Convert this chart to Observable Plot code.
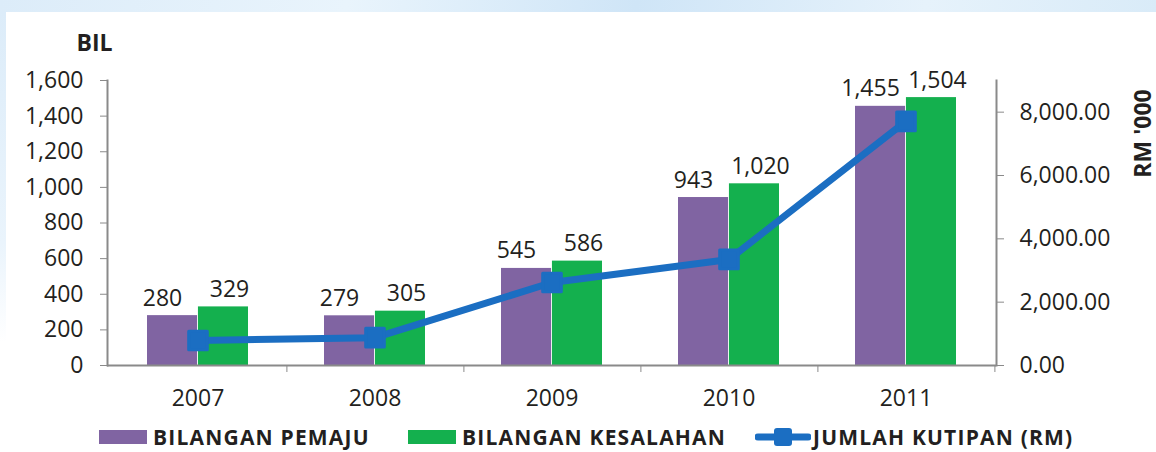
<!DOCTYPE html>
<html>
<head>
<meta charset="utf-8">
<script src="https://cdn.jsdelivr.net/npm/d3@7"></script>
<script src="https://cdn.jsdelivr.net/npm/@observablehq/plot@0.6"></script>
<style>
  html, body { margin: 0; padding: 0; background: #fff; }
  body { width: 1156px; height: 452px; overflow: hidden; position: relative; font-family: "Open Sans", sans-serif; }
  #topband { position: absolute; left: 0; top: 0; width: 1156px; height: 12px;
    background: linear-gradient(100deg, #dcecf9 0%, #e9f4fc 30%, #cfe5f7 55%, #e6f2fb 80%, #d9ebf8 100%); }
  #leftband { position: absolute; left: 0; top: 12px; width: 6px; height: 330px;
    background: linear-gradient(180deg, #dcecf9 0%, #eaf4fc 70%, #ffffff 100%); }
  #chart { position: absolute; left: 0; top: 0; width: 1156px; }
  #legend { position: absolute; left: 0; top: 423px; width: 1156px; height: 28px; }
  .item { position: absolute; top: 0; height: 28px; display: flex; align-items: center; line-height: 1;
          font-family: "Open Sans", sans-serif; font-weight: 700; font-size: 21px; letter-spacing: 1.2px; color: #231f20; white-space: nowrap; }
  .sw { width: 48px; height: 14px; margin-right: 6px; }
</style>
</head>
<body>
<div id="topband"></div>
<div id="leftband"></div>
<div id="chart"></div>
<div id="legend"></div>
<script>
const years = ["2007", "2008", "2009", "2010", "2011"];
const pemaju = [280, 279, 545, 943, 1455];
const kesalahan = [329, 305, 586, 1020, 1504];
const kutipan = [790, 880, 2620, 3350, 7710]; // RM '000
const leftTicks = [0, 200, 400, 600, 800, 1000, 1200, 1400, 1600];
const rightTicks = [0, 2000, 4000, 6000, 8000];
const seriesNames = ["BILANGAN PEMAJU", "BILANGAN KESALAHAN", "JUMLAH KUTIPAN (RM)"];
const colors = ["#8064a2", "#14b04e", "#1b6ec2"];

const W = 1156, H = 415;
const mL = 107, mR = 160, mT = 80, mB = 50;
const leftMax = 1600, rightMax = 9000;
const k = leftMax / rightMax;

const pIn = 0.427, pOut = pIn / 2;
const step = (W - mL - mR) / (years.length - pIn + 2 * pOut);
const bw = step * (1 - pIn);

const barsP = years.map((y, i) => ({year: y, value: pemaju[i]}));
const barsK = years.map((y, i) => ({year: y, value: kesalahan[i]}));
const lineData = years.map((y, i) => ({year: y, value: kutipan[i]}));

const fmtL = d3.format(",");
const fmtR = d3.format(",.2f");
const axisColor = "#8a8a8a";
const textColor = "#231f20";

const chart = Plot.plot({
  width: W, height: H,
  marginLeft: mL, marginRight: mR, marginTop: mT, marginBottom: mB,
  style: {fontFamily: "Open Sans, sans-serif", fontSize: "23px", color: textColor, background: "transparent", overflow: "visible"},
  x: {type: "band", domain: years, paddingInner: pIn, paddingOuter: pOut, axis: null},
  y: {domain: [0, leftMax], axis: null},
  marks: [
    Plot.barY(barsP, {x: "year", y: "value", fill: colors[0], insetRight: bw / 2}),
    Plot.barY(barsK, {x: "year", y: "value", fill: colors[1], insetLeft: bw / 2}),
    Plot.text(barsP, {x: "year", y: "value", text: d => fmtL(d.value), dx: -bw / 4 - 10, dy: -10, lineAnchor: "bottom", fill: textColor, fontSize: 23}),
    Plot.text(barsK, {x: "year", y: "value", text: d => fmtL(d.value), dx: bw / 4 + 6, dy: -10, lineAnchor: "bottom", fill: textColor, fontSize: 23}),
    Plot.line(lineData, {x: "year", y: d => d.value * k, stroke: colors[2], strokeWidth: 7}),
    Plot.dot(lineData, {x: "year", y: d => d.value * k, symbol: "square", r: 10.5, fill: colors[2], stroke: colors[2], strokeWidth: 3, strokeLinejoin: "round"}),
    Plot.frame({anchor: "left", stroke: axisColor, strokeWidth: 2}),
    Plot.frame({anchor: "right", stroke: axisColor, strokeWidth: 2}),
    Plot.ruleY([0], {stroke: axisColor, strokeWidth: 2}),
    Plot.axisY(leftTicks, {anchor: "left", tickSize: 7, tickPadding: 17, tickFormat: fmtL, stroke: axisColor, fill: textColor, fontSize: 23, label: null}),
    Plot.axisY(rightTicks.map(v => v * k), {anchor: "right", tickSize: 7, tickPadding: 16, tickFormat: d => fmtR(d / k), stroke: axisColor, fill: textColor, fontSize: 23, label: null}),
    Plot.axisX(years, {anchor: "bottom", tickSize: 7, dx: step / 2, tickFormat: () => "", stroke: axisColor, label: null}),
    Plot.axisX(years, {anchor: "bottom", tickSize: 0, tickPadding: 24, fill: textColor, fontSize: 23, label: null}),
    Plot.text(["BIL"], {frameAnchor: "top-left", textAnchor: "middle", lineAnchor: "middle", dx: -13, dy: -37, fontWeight: "bold", fontSize: 23, fill: textColor}),
    Plot.text(["RM '000"], {frameAnchor: "top-right", textAnchor: "middle", lineAnchor: "middle", dx: 147, dy: 53, rotate: -90, fontWeight: "bold", fontSize: 23, fill: textColor})
  ]
});
document.getElementById("chart").appendChild(chart);

// Legend
const legend = document.getElementById("legend");
const pos = [99, 408, 755];
seriesNames.forEach((name, i) => {
  const item = document.createElement("div");
  item.className = "item";
  item.style.left = pos[i] + "px";
  if (i < 2) {
    const sw = document.createElement("div");
    sw.className = "sw";
    sw.style.background = colors[i];
    item.appendChild(sw);
  } else {
    const ns = "http://www.w3.org/2000/svg";
    const svg = document.createElementNS(ns, "svg");
    svg.setAttribute("width", "56"); svg.setAttribute("height", "24");
    svg.style.marginRight = "2px";
    const ln = document.createElementNS(ns, "line");
    ln.setAttribute("x1", "3"); ln.setAttribute("x2", "53"); ln.setAttribute("y1", "12"); ln.setAttribute("y2", "12");
    ln.setAttribute("stroke", colors[2]); ln.setAttribute("stroke-width", "7"); ln.setAttribute("stroke-linecap", "round");
    const sq = document.createElementNS(ns, "rect");
    sq.setAttribute("x", "19"); sq.setAttribute("y", "3"); sq.setAttribute("width", "18"); sq.setAttribute("height", "18");
    sq.setAttribute("rx", "3"); sq.setAttribute("fill", colors[2]);
    svg.appendChild(ln); svg.appendChild(sq);
    item.appendChild(svg);
  }
  const t = document.createElement("span");
  t.textContent = name;
  item.appendChild(t);
  legend.appendChild(item);
});
</script>
</body>
</html>
